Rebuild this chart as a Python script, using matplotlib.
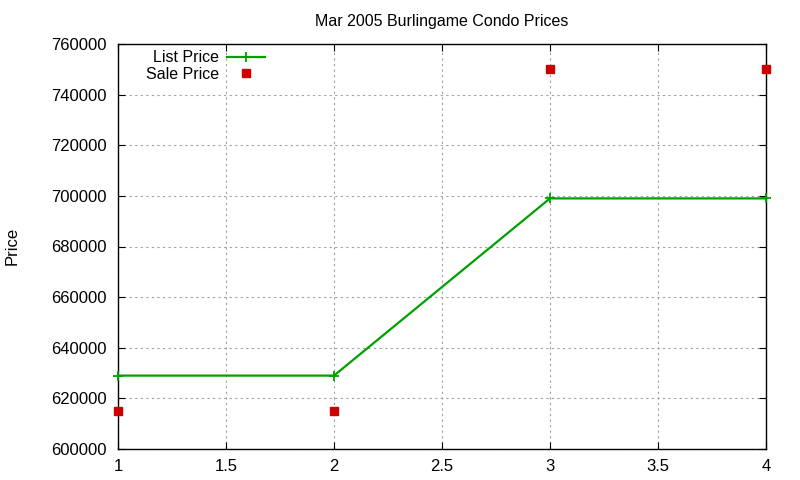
import matplotlib
matplotlib.use('Agg')
import matplotlib.pyplot as plt

# Data
x = [1, 2, 3, 4]
list_price = [629000, 629000, 699000, 699000]
sale_price = [615000, 615000, 750000, 750000]

plt.rcParams['font.family'] = ['Liberation Sans', 'DejaVu Sans']

fig = plt.figure(figsize=(8, 4.8), dpi=100)
ax = fig.add_axes([118 / 800, 1 - 449 / 480, (766 - 118) / 800, (449 - 44) / 480])

ax.plot(x, list_price, color='#00a000', lw=1.6, marker='+', ms=7, mew=1.3,
        label='List Price', clip_on=False, zorder=3)
ax.plot(x, sale_price, ls='none', marker='s', ms=6, color='#cc0000',
        label='Sale Price', clip_on=False, zorder=3)

ax.set_xlim(1, 4)
ax.set_ylim(600000, 760000)
ax.set_xticks([1, 1.5, 2, 2.5, 3, 3.5, 4])
ax.set_xticklabels(['1', '1.5', '2', '2.5', '3', '3.5', '4'])
ax.set_yticks(range(600000, 760001, 20000))
ax.set_yticklabels([str(v) for v in range(600000, 760001, 20000)])
ax.tick_params(direction='in', top=True, right=True, labelsize=12, length=5)
ax.tick_params(axis='y', pad=8)
ax.tick_params(axis='x', pad=7)
ax.grid(True, color='#a0a0a0', ls=(0, (2, 3)), lw=0.8)
for s in ax.spines.values():
    s.set_linewidth(1.0)

ax.set_title('Mar 2005 Burlingame Condo Prices', fontsize=11.5, pad=13)
fig.text(12 / 800, 1 - 246 / 480, 'Price', rotation=90, fontsize=12,
         ha='center', va='center')

leg = ax.legend(loc='upper right', bbox_to_anchor=(0.237, 1.0), frameon=False,
                markerfirst=False, fontsize=11.5, handlelength=2.4,
                labelspacing=0.1, borderaxespad=0.0, handletextpad=0.5)
for t in leg.get_texts():
    t.set_ha('right')
leg._legend_box.align = 'right'

fig.savefig('out.png', dpi=100)
